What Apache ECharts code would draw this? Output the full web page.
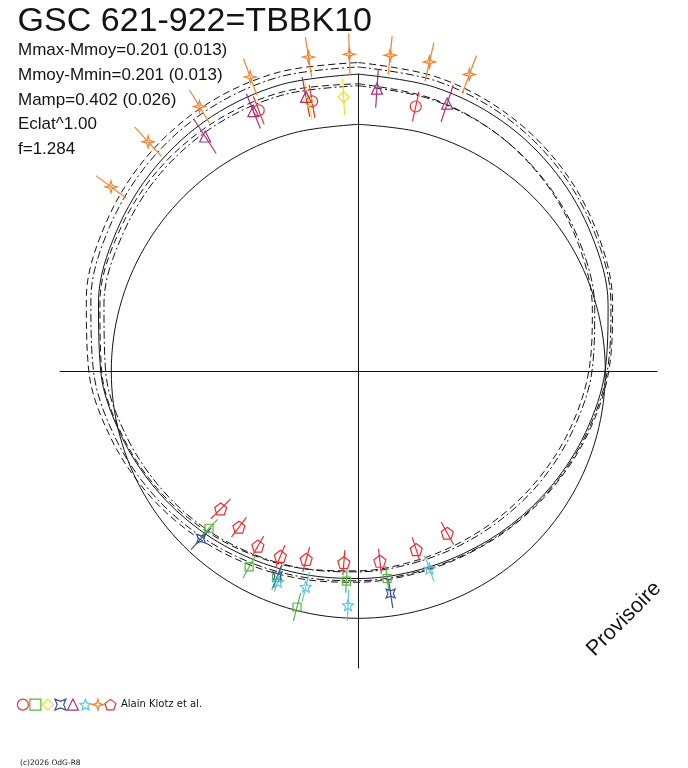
<!DOCTYPE html>
<html><head><meta charset="utf-8">
<script src="https://cdn.jsdelivr.net/npm/echarts@6/dist/echarts.min.js"></script>
<style>html,body{margin:0;padding:0;background:#fff}#c{width:688px;height:768px}</style>
</head><body><div id="c"></div>
<script>
// ---------- texts ----------
const titleText = 'GSC 621-922=TBBK10';
const infoLines = ['Mmax-Mmoy=0.201 (0.013)', 'Mmoy-Mmin=0.201 (0.013)', 'Mamp=0.402 (0.026)', 'Eclat^1.00', 'f=1.284'];
const creditText = 'Alain Klotz et al.';
const copyrightText = '(c)2026 OdG-R8';
const watermarkText = 'Provisoire';

// ---------- model curves (relative flux vs phase, phase 0 at top, clockwise) ----------
const curvePhase = [0, 0.0417, 0.0833, 0.125, 0.1667, 0.2083, 0.25, 0.2917, 0.3333, 0.375, 0.4167, 0.4583,
  0.5, 0.5417, 0.5833, 0.625, 0.6667, 0.7083, 0.75, 0.7917, 0.8333, 0.875, 0.9167, 0.9583, 1];
const meanFlux = 1.0;
const fitFlux = [1.203, 1.191, 1.168, 1.134, 1.093, 1.047, 0.999, 0.953, 0.911, 0.877, 0.852, 0.840,
  0.839, 0.851, 0.874, 0.908, 0.949, 0.995, 1.043, 1.089, 1.131, 1.165, 1.190, 1.202];
const upperDashed = [1.250, 1.233, 1.204, 1.165, 1.118, 1.066, 1.014, 0.964, 0.920, 0.885, 0.861, 0.851,
  0.854, 0.871, 0.900, 0.939, 0.986, 1.038, 1.091, 1.140, 1.184, 1.219, 1.243, 1.253];
const upperDashDot = [1.232, 1.217, 1.190, 1.153, 1.108, 1.059, 1.008, 0.959, 0.916, 0.882, 0.858, 0.846,
  0.848, 0.863, 0.890, 0.927, 0.972, 1.021, 1.072, 1.121, 1.164, 1.198, 1.222, 1.234];
const lowerDashed = [1.164, 1.144, 1.114, 1.075, 1.029, 0.981, 0.933, 0.889, 0.851, 0.823, 0.806, 0.801,
  0.808, 0.828, 0.858, 0.897, 0.943, 0.991, 1.039, 1.083, 1.121, 1.149, 1.166, 1.172];
const lowerDashDot = [1.156, 1.140, 1.114, 1.078, 1.037, 0.991, 0.946, 0.902, 0.865, 0.835, 0.816, 0.808,
  0.812, 0.828, 0.854, 0.890, 0.931, 0.977, 1.023, 1.066, 1.103, 1.133, 1.152, 1.160];

// ---------- observations: [relative flux, phase, error] ----------
const obsCircle = [[1.131, 0.942, 0.061], [1.109, 0.973, 0.068], [1.097, 0.034, 0.062]];
const obsSquare = [[0.877, 0.621, 0.050], [0.907, 0.581, 0.051], [0.899, 0.560, 0.052],
  [0.986, 0.5405, 0.058], [0.851, 0.509, 0.047], [0.847, 0.478, 0.051]];
const obsDiamond = [[1.112, 0.9915, 0.074], [1.112, 0.971, 0.078]];
const obsCross = [[0.930, 0.620, 0.060], [0.892, 0.5597, 0.049], [0.909, 0.477, 0.060]];
const obsTriangle = [[1.135, 0.908, 0.081], [1.136, 0.939, 0.076], [1.131, 0.970, 0.082],
  [1.147, 0.0105, 0.078], [1.142, 0.051, 0.078]];
const obsStar5 = [[0.912, 0.558, 0.043], [0.898, 0.538, 0.062], [0.948, 0.507, 0.064], [0.849, 0.445, 0.056]];
const obsStar4 = [[1.249, 0.852, 0.076], [1.260, 0.882, 0.080], [1.250, 0.914, 0.078], [1.269, 0.944, 0.079],
  [1.288, 0.975, 0.082], [1.284, 0.9955, 0.085], [1.286, 0.016, 0.078], [1.285, 0.036, 0.080], [1.283, 0.057, 0.082]];
const obsPentagon = [[0.788, 0.625, 0.056], [0.795, 0.604, 0.050], [0.816, 0.583, 0.047], [0.813, 0.5635, 0.049],
  [0.790, 0.543, 0.052], [0.777, 0.512, 0.051], [0.774, 0.482, 0.051], [0.759, 0.450, 0.052], [0.748, 0.420, 0.052]];

// ---------- styles ----------
const PX_PER_UNIT = 247;
const R_MAX = 1.4;
const INK = '#141414';
const FONT = '"Liberation Sans", Arial, sans-serif';
const SMALLFONT = '"DejaVu Sans", sans-serif';
const MARK_W = 1.2;

const PENTA = 'path://M0,-1 L0.951,-0.309 L0.588,0.809 L-0.588,0.809 L-0.951,-0.309 Z';
const STAR5 = 'path://M0,-1 L0.26,-0.36 L0.951,-0.309 L0.42,0.137 L0.588,0.809 L0,0.44 L-0.588,0.809 L-0.42,0.137 L-0.951,-0.309 L-0.26,-0.36 Z';
const STAR4 = 'path://M0,-1 L0.22,-0.22 L1,0 L0.22,0.22 L0,1 L-0.22,0.22 L-1,0 L-0.22,-0.22 Z';
const CROSS4 = 'path://M-1,-1 L0,-0.6 L1,-1 L0.6,0 L1,1 L0,0.6 L-1,1 L-0.6,0 Z';

const groups = [
  {name: 'obs-circle', data: obsCircle, symbol: 'circle', size: 11, color: '#e8323c'},
  {name: 'obs-square', data: obsSquare, symbol: 'rect', size: 8, color: '#58b441'},
  {name: 'obs-diamond', data: obsDiamond, symbol: 'diamond', size: 11, color: '#f2e21a'},
  {name: 'obs-cross', data: obsCross, symbol: CROSS4, size: 9, color: '#3a4fa3'},
  {name: 'obs-triangle', data: obsTriangle, symbol: 'triangle', size: 11, color: '#a8317c'},
  {name: 'obs-star5', data: obsStar5, symbol: STAR5, size: 11, color: '#5ec6dc'},
  {name: 'obs-star4', data: obsStar4, symbol: STAR4, size: 12, color: '#f4812c'},
  {name: 'obs-pentagon', data: obsPentagon, symbol: PENTA, size: 12, color: '#ec2d34'}
];

function curveSeries(values, type) {
  const loop = values.concat([values[0]]);
  return {
    type: 'line', coordinateSystem: 'polar', silent: true, symbol: 'none', smooth: 0.34,
    data: loop.map((v, i) => [v, curvePhase[i]]),
    lineStyle: {color: INK, width: 1, type: type},
    emphasis: {disabled: true}, z: 2
  };
}

const series = [
  curveSeries(curvePhase.slice(0, 24).map(() => meanFlux), 'solid'),
  curveSeries(fitFlux, 'solid'),
  curveSeries(upperDashed, [7, 4]),
  curveSeries(lowerDashed, [7, 4]),
  curveSeries(upperDashDot, [8, 3, 2, 3]),
  curveSeries(lowerDashDot, [8, 3, 2, 3])
];

groups.forEach(g => {
  series.push({
    type: 'custom', name: g.name + '-err', coordinateSystem: 'polar', silent: true, z: 3,
    data: g.data,
    encode: {radius: 0, angle: 1},
    renderItem: (params, api) => {
      const r = api.value(0), ph = api.value(1), e = api.value(2);
      const a = api.coord([r - e, ph]);
      const b = api.coord([r + e, ph]);
      return {type: 'line', shape: {x1: a[0], y1: a[1], x2: b[0], y2: b[1]},
        style: {stroke: g.color, lineWidth: MARK_W}};
    }
  });
  series.push({
    type: 'scatter', name: g.name, coordinateSystem: 'polar', silent: true, z: 4,
    data: g.data.map(d => [d[0], d[1]]),
    symbol: g.symbol, symbolSize: g.size,
    itemStyle: {color: 'rgba(0,0,0,0)', borderColor: g.color, borderWidth: MARK_W, opacity: 1},
    emphasis: {disabled: true}
  });
});

const hiddenAxis = {
  type: 'value', min: -1, max: 1,
  axisLine: {show: true, onZero: true, lineStyle: {color: INK, width: 1}},
  axisTick: {show: false}, axisLabel: {show: false}, splitLine: {show: false}
};

const option = {
  animation: false,
  backgroundColor: '#ffffff',
  textStyle: {fontFamily: FONT},
  title: [
    {text: titleText, left: 17.6, top: 4.5, padding: 0,
      textStyle: {fontFamily: FONT, fontSize: 34, fontWeight: 'normal', color: INK, lineHeight: 34}},
    {text: infoLines.join('\n'), left: 18, top: 38.5, padding: 0,
      textStyle: {fontFamily: FONT, fontSize: 17, fontWeight: 'normal', color: INK, lineHeight: 24.6}}
  ],
  grid: {left: 60, top: 74, width: 597, height: 594},
  xAxis: hiddenAxis,
  yAxis: hiddenAxis,
  polar: {center: [358.3, 371.3], radius: R_MAX * PX_PER_UNIT},
  radiusAxis: {type: 'value', min: 0, max: R_MAX, show: false},
  angleAxis: {type: 'value', min: 0, max: 1, startAngle: 90, clockwise: true, show: false},
  legend: {
    data: groups.map(g => g.name), left: 16.8, top: 698.5, padding: 0,
    itemWidth: 11, itemHeight: 11, itemGap: 0.3, selectedMode: false,
    formatter: name => (name === groups[groups.length - 1].name ? creditText : ''),
    textStyle: {fontFamily: SMALLFONT, fontSize: 10, color: INK},
    itemStyle: {borderWidth: MARK_W}
  },
  graphic: [
    {type: 'text', x: 598, y: 660.5, rotation: Math.PI / 4,
      style: {text: watermarkText, fontFamily: FONT, fontSize: 21.5, fill: INK, align: 'left', verticalAlign: 'bottom'}},
    {type: 'text', x: 20, y: 767,
      style: {text: copyrightText, fontFamily: SMALLFONT, fontSize: 7.5, fill: INK, align: 'left', verticalAlign: 'bottom'}}
  ],
  series: series
};

const chart = echarts.init(document.getElementById('c'), null, {renderer: 'canvas'});
chart.setOption(option);
</script>
</body></html>
